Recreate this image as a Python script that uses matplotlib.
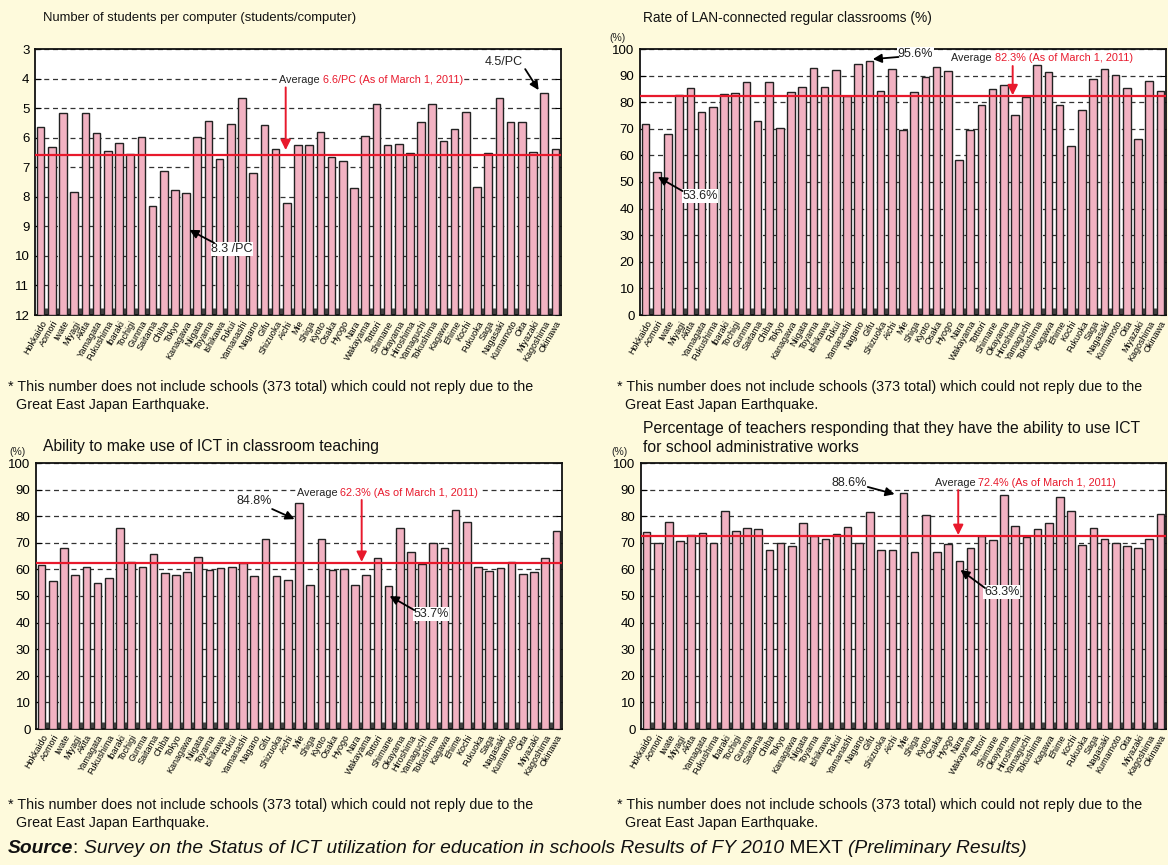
import numpy as np
import matplotlib.pyplot as plt

plt.rcParams['font.family'] = ['Liberation Sans', 'DejaVu Sans']

prefectures = ["Hokkaido", "Aomori", "Iwate", "Miyagi", "Akita", "Yamagata", "Fukushima",
               "Ibaraki", "Tochigi", "Gunma", "Saitama", "Chiba", "Tokyo", "Kanagawa",
               "Niigata", "Toyama", "Ishikawa", "Fukui", "Yamanashi", "Nagano", "Gifu",
               "Shizuoka", "Aichi", "Mie", "Shiga", "Kyoto", "Osaka", "Hyogo", "Nara",
               "Wakayama", "Tottori", "Shimane", "Okayama", "Hiroshima", "Yamaguchi",
               "Tokushima", "Kagawa", "Ehime", "Kochi", "Fukuoka", "Saga", "Nagasaki",
               "Kumamoto", "Oita", "Miyazaki", "Kagoshima", "Okinawa"]

# students per computer
students_per_pc = [5.65, 6.31, 5.16, 7.83, 5.16, 5.85, 6.44, 6.17, 6.54, 5.98,
                   8.3, 7.14, 7.78, 7.87, 5.99, 5.44, 6.72, 5.53, 4.65, 7.18,
                   5.58, 6.39, 8.22, 6.25, 6.25, 5.81, 6.64, 6.78, 7.69, 5.95,
                   4.85, 6.26, 6.20, 6.53, 5.48, 4.85, 6.12, 5.69, 5.14, 7.66,
                   6.51, 4.65, 5.48, 5.46, 6.47, 4.5, 6.39]
avg_students = 6.6

# LAN-connected classrooms (%)
lan_rate = [71.8, 53.6, 68.0, 82.8, 85.3, 76.5, 78.1, 83.1, 83.6, 87.6,
            73.0, 87.6, 70.4, 84.0, 85.8, 92.8, 85.8, 92.1, 82.3, 94.4,
            95.6, 84.1, 92.4, 69.4, 84.0, 89.3, 93.1, 91.6, 58.3, 69.5,
            79.1, 84.8, 86.5, 75.3, 81.8, 94.1, 91.3, 78.8, 63.5, 76.9,
            88.8, 92.6, 90.3, 85.4, 66.3, 87.8, 84.3]
avg_lan = 82.3

# ICT in classroom teaching (%)
ict_teaching = [61.6, 55.6, 67.9, 58.0, 60.9, 54.8, 56.8, 75.4, 62.9, 60.9,
                65.9, 58.5, 58.0, 59.0, 64.6, 59.6, 60.5, 60.8, 62.5, 57.4,
                71.4, 57.6, 56.1, 84.8, 54.1, 71.5, 59.8, 60.3, 54.3, 57.9,
                64.4, 53.7, 75.6, 66.6, 61.9, 70.0, 67.9, 82.5, 78.0, 61.0,
                59.3, 60.6, 62.9, 58.1, 58.9, 64.4, 74.6]
avg_teaching = 62.3

# ICT for school administrative works (%)
ict_admin = [74.0, 69.8, 78.0, 70.8, 73.0, 73.5, 70.0, 81.8, 74.3, 75.4,
             75.3, 67.3, 70.0, 68.8, 77.5, 72.5, 71.5, 73.3, 75.9, 69.8,
             81.6, 67.3, 67.3, 88.6, 66.6, 80.5, 66.4, 69.5, 63.3, 67.9,
             72.6, 71.0, 87.8, 76.3, 72.1, 75.3, 77.4, 87.3, 82.1, 69.3,
             75.6, 71.6, 69.8, 68.8, 68.0, 71.3, 80.9]
avg_admin = 72.4

W, H = 1168, 865
BG = '#FEFADC'
BAR = '#F2B2C2'
RED = '#E8192C'
footnote = "* This number does not include schools (373 total) which could not reply due to the"
footnote2 = "Great East Japan Earthquake."

fig = plt.figure(figsize=(W / 100, H / 100), dpi=100, facecolor=BG)

# overlay in pixel coordinates for titles / notes
bg = fig.add_axes([0, 0, 1, 1], zorder=-1)
bg.axis('off')
bg.set_xlim(0, W)
bg.set_ylim(H, 0)


def px_rect(left, top, right, bottom):
    return [left / W, (H - bottom) / H, (right - left) / W, (bottom - top) / H]


def draw_panel(ax, vals, avg, ylim, base, yticks):
    x = np.arange(len(prefectures))
    v = np.array(vals)
    ax.bar(x, v - base, bottom=base, width=0.68, color=BAR,
           edgecolor='#222222', linewidth=1.0, zorder=3)
    ax.axhline(avg, color=RED, lw=1.6, zorder=4)
    ax.set_xlim(-0.5, len(x) - 0.5)
    ax.set_ylim(*ylim)
    ax.set_yticks(yticks)
    ax.grid(axis='y', color='#333333', lw=0.9, ls=(0, (4, 3)), zorder=1)
    ax.set_xticks(x)
    ax.set_xticklabels(prefectures, rotation=60, ha='right', rotation_mode='anchor',
                       fontsize=6.5)
    ax.set_xticks(x[:-1] + 0.5, minor=True)
    ax.tick_params(axis='x', which='major', length=0, pad=3)
    ax.tick_params(axis='x', which='minor', direction='in', length=5, width=2.2,
                   color='#444444', top=False)
    ax.tick_params(axis='y', direction='in', length=4, left=True, right=True,
                   labelsize=9.5, pad=4)
    for s in ax.spines.values():
        s.set_linewidth(1.3)
        s.set_color('#111111')
    ax.set_facecolor('white')


def avg_label(ax, x, y, red_text):
    t = ax.text(x, y, 'Average ', color='#222222', ha='left', va='center', fontsize=7.8,
                zorder=5, bbox=dict(boxstyle='square,pad=0.05', fc='white', ec='none'))
    ax.annotate(red_text, xy=(1, 0.5), xycoords=t, ha='left', va='center', color=RED,
                fontsize=7.8, zorder=5,
                bbox=dict(boxstyle='square,pad=0.05', fc='white', ec='none'))


def red_arrow(ax, x, y_tail, y_tip):
    ax.annotate('', xy=(x, y_tip), xytext=(x, y_tail), zorder=6,
                arrowprops=dict(arrowstyle='-|>', color=RED, lw=1.4, mutation_scale=15,
                                shrinkA=0, shrinkB=0))


def callout(ax, text, tx, ty, tail, tip):
    ax.text(tx, ty, text, ha='center', va='center', fontsize=9, color='#222222', zorder=6,
            bbox=dict(boxstyle='square,pad=0.05', fc='white', ec='none'))
    ax.annotate('', xy=tip, xytext=tail, zorder=6,
                arrowprops=dict(arrowstyle='-|>', color='black', lw=1.3, mutation_scale=13,
                                shrinkA=0, shrinkB=0))


# panel 1: students per computer (inverted axis)
ax1 = fig.add_axes(px_rect(35, 49, 561, 315))
draw_panel(ax1, students_per_pc, avg_students, (12, 3), 12, np.arange(3, 13))
avg_label(ax1, 21.3, 4.05, '6.6/PC (As of March 1, 2011)')
red_arrow(ax1, 21.9, 4.3, 6.42)
callout(ax1, '8.3 /PC', 17.1, 9.77, (15.5, 9.56), (13.3, 9.12))
callout(ax1, '4.5/PC', 41.4, 3.44, (43.3, 3.68), (44.5, 4.39))

# panel 2: LAN rate
ax2 = fig.add_axes(px_rect(640, 49, 1166, 315))
draw_panel(ax2, lan_rate, avg_lan, (0, 100), 0, np.arange(0, 101, 10))
avg_label(ax2, 27.3, 96.6, '82.3% (As of March 1, 2011)')
red_arrow(ax2, 32.8, 93.6, 82.6)
callout(ax2, '53.6%', 4.86, 44.7, (3.3, 46.6), (1.1, 51.9))
callout(ax2, '95.6%', 24.1, 98.1, (22.6, 97.0), (20.3, 96.2))

# panel 3: ICT in classroom teaching
ax3 = fig.add_axes(px_rect(36, 463, 562, 729))
draw_panel(ax3, ict_teaching, avg_teaching, (0, 100), 0, np.arange(0, 101, 10))
avg_label(ax3, 22.8, 88.7, '62.3% (As of March 1, 2011)')
red_arrow(ax3, 28.6, 86.1, 62.8)
callout(ax3, '84.8%', 19.0, 85.7, (20.6, 82.7), (22.6, 78.9))
callout(ax3, '53.7%', 34.8, 43.2, (33.3, 44.7), (31.1, 50.0))

# panel 4: ICT for administrative works
ax4 = fig.add_axes(px_rect(641, 463, 1166, 729))
draw_panel(ax4, ict_admin, avg_admin, (0, 100), 0, np.arange(0, 101, 10))
avg_label(ax4, 25.8, 92.5, '72.4% (As of March 1, 2011)')
red_arrow(ax4, 27.9, 89.8, 72.9)
callout(ax4, '88.6%', 18.1, 92.5, (19.8, 91.0), (22.2, 88.3))
callout(ax4, '63.3%', 31.8, 51.5, (30.3, 53.0), (28.1, 59.8))

# titles
title_kw = dict(color='#111111', ha='left', va='center')
bg.text(43, 18, 'Number of students per computer (students/computer)', fontsize=9.4, **title_kw)
bg.text(643, 18, 'Rate of LAN-connected regular classrooms (%)', fontsize=9.9, **title_kw)
bg.text(43, 447, 'Ability to make use of ICT in classroom teaching', fontsize=11.3, **title_kw)
bg.text(643, 429, 'Percentage of teachers responding that they have the ability to use ICT',
        fontsize=11.3, **title_kw)
bg.text(643, 447, 'for school administrative works', fontsize=11.3, **title_kw)
for px, py in [(618, 38), (18, 452), (620, 452)]:
    bg.text(px, py, '(%)', fontsize=7.5, ha='center', va='center', color='#222222')

# footnotes
for fx, fy in [(8, 387), (617, 387), (8, 805), (617, 805)]:
    bg.text(fx, fy, footnote, fontsize=10.3, ha='left', va='center', color='#111111')
    bg.text(fx + 8, fy + 18, footnote2, fontsize=10.3, ha='left', va='center', color='#111111')

# source line
pieces = [('Source', 'italic', 'bold'), (': ', 'normal', 'normal'),
          ('Survey on the Status of ICT utilization for education in schools Results of FY 2010',
           'italic', 'normal'),
          (' MEXT ', 'normal', 'normal'), ('(Preliminary Results)', 'italic', 'normal')]
prev = bg.text(8, 857, pieces[0][0], fontsize=13.85, style=pieces[0][1], weight=pieces[0][2],
               ha='left', va='bottom', color='#111111')
for txt, st, wt in pieces[1:]:
    prev = bg.annotate(txt, xy=(1, 0), xycoords=prev, ha='left', va='bottom', fontsize=13.85,
                       style=st, weight=wt, color='#111111')

fig.savefig('out.png', dpi=100, facecolor=BG)
